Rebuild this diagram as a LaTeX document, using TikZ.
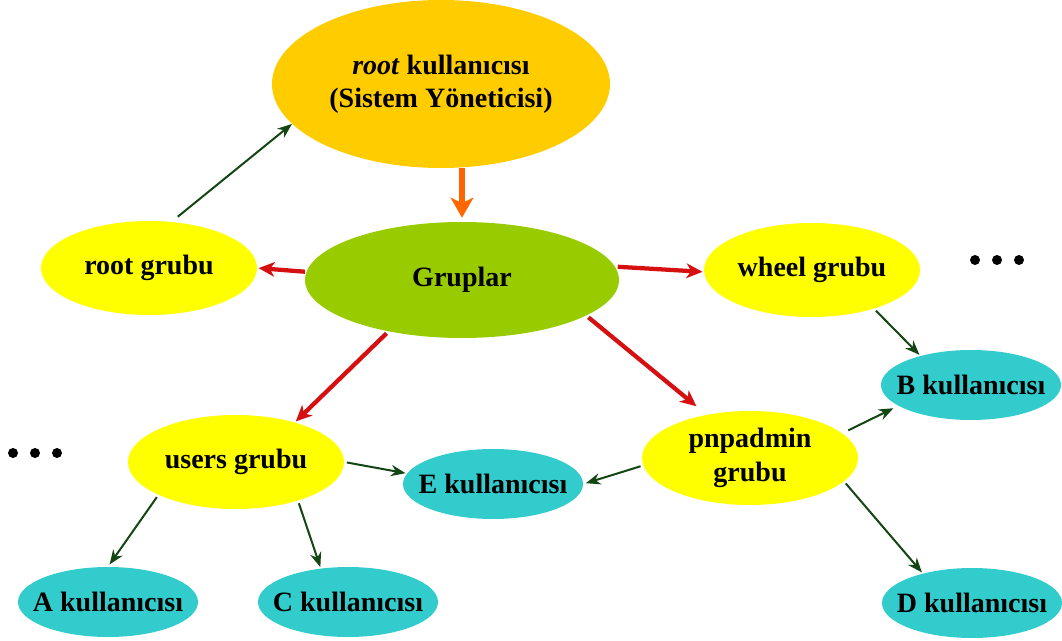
\documentclass[tikz,border=0pt]{standalone}
\usepackage{fontspec}
\setmainfont{Liberation Serif}
\usetikzlibrary{shapes.geometric,arrows.meta}
\definecolor{goldc}{RGB}{255,204,0}
\definecolor{greenc}{RGB}{153,204,0}
\definecolor{yellowc}{RGB}{255,255,0}
\definecolor{tealc}{RGB}{51,204,204}
\definecolor{redc}{RGB}{214,16,16}
\definecolor{orangec}{RGB}{255,102,0}
\definecolor{darkg}{RGB}{20,70,20}
\begin{document}
\begin{tikzpicture}[x=0.75pt,y=-0.75pt,
  base/.style={ellipse, draw=none, inner sep=0pt, align=center, font=\fontsize{21}{25}\selectfont\bfseries},
  topell/.style={base, fill=goldc, minimum width=253.5pt, minimum height=126pt, inner xsep=-40pt, inner ysep=-10pt},
  grell/.style={base, fill=greenc, minimum width=235.5pt, minimum height=87pt},
  grpell/.style={base, fill=yellowc, minimum width=162pt, minimum height=70.5pt, inner xsep=-10pt, inner ysep=-8pt},
  usrell/.style={base, fill=tealc, minimum width=135pt, minimum height=52.5pt, inner xsep=-25pt, inner ysep=-8pt},
  redarr/.style={draw=redc, line width=3.2pt, -{Stealth[length=12pt,width=11pt,inset=3.5pt]}},
  orarr/.style={draw=orangec, line width=4.5pt, -{Stealth[length=15pt,width=17pt,inset=4pt]}},
  grarr/.style={draw=darkg, line width=1.5pt, -{Stealth[length=11pt,width=8.5pt]}},
  dotc/.style={fill=black}
]
\useasboundingbox (0,0) rectangle (1062,641);

\node[topell] (root) at (441,84) {\textit{root} kullanıcısı\\(Sistem Yöneticisi)};
\node[grell] (gr) at (462,280) {Gruplar};
\node[grpell] (rg) at (149,268) {root grubu};
\node[grpell] (wg) at (812,270) {wheel grubu};
\node[grpell] (ug) at (236,462) {users grubu};
\node[grpell] (pg) at (750,458) {pnpadmin\\grubu};
\node[usrell] (B) at (971,385) {B kullanıcısı};
\node[usrell] (E) at (493,484) {E kullanıcısı};
\node[usrell] (A) at (108,602) {A kullanıcısı};
\node[usrell] (C) at (348,602) {C kullanıcısı};
\node[usrell] (D) at (972,603) {D kullanıcısı};

\foreach \x in {975,997,1019} \fill[dotc] (\x,260) circle[radius=5];
\foreach \x in {13,35,57} \fill[dotc] (\x,453) circle[radius=5];

\draw[grarr, shorten <=6pt] (rg.64) -- (root.195);
\draw[orarr, shorten <=0pt, shorten >=3pt] (root.south -| gr.north) -- (gr.north);
\draw[redarr, shorten <=1pt, shorten >=1pt] (gr.177) -- (rg.east);
\draw[redarr, shorten <=2pt, shorten >=1pt] (gr.5) -- (wg.181);
\draw[redarr, shorten <=2pt, shorten >=1pt] (gr.215) -- (ug.34);
\draw[redarr, shorten <=2pt, shorten >=10pt] (gr.344) -- (pg.135);
\draw[grarr, shorten <=2pt, shorten >=1pt] (wg.328) -- (B.150);
\draw[grarr, shorten <=5pt, shorten >=4pt] (pg.15) -- (B.196);
\draw[grarr, shorten <=2pt, shorten >=2pt] (pg.184) -- (E.east);
\draw[grarr, shorten <=2pt, shorten >=1pt] (ug.east) -- (E.173);
\draw[grarr, shorten <=2pt, shorten >=2pt] (ug.203) -- (A.north);
\draw[grarr, shorten <=2pt, shorten >=1pt] (ug.328) -- (C.129);
\draw[grarr, shorten <=2pt, shorten >=1pt] (pg.346) -- (D.149);
\end{tikzpicture}
\end{document}
